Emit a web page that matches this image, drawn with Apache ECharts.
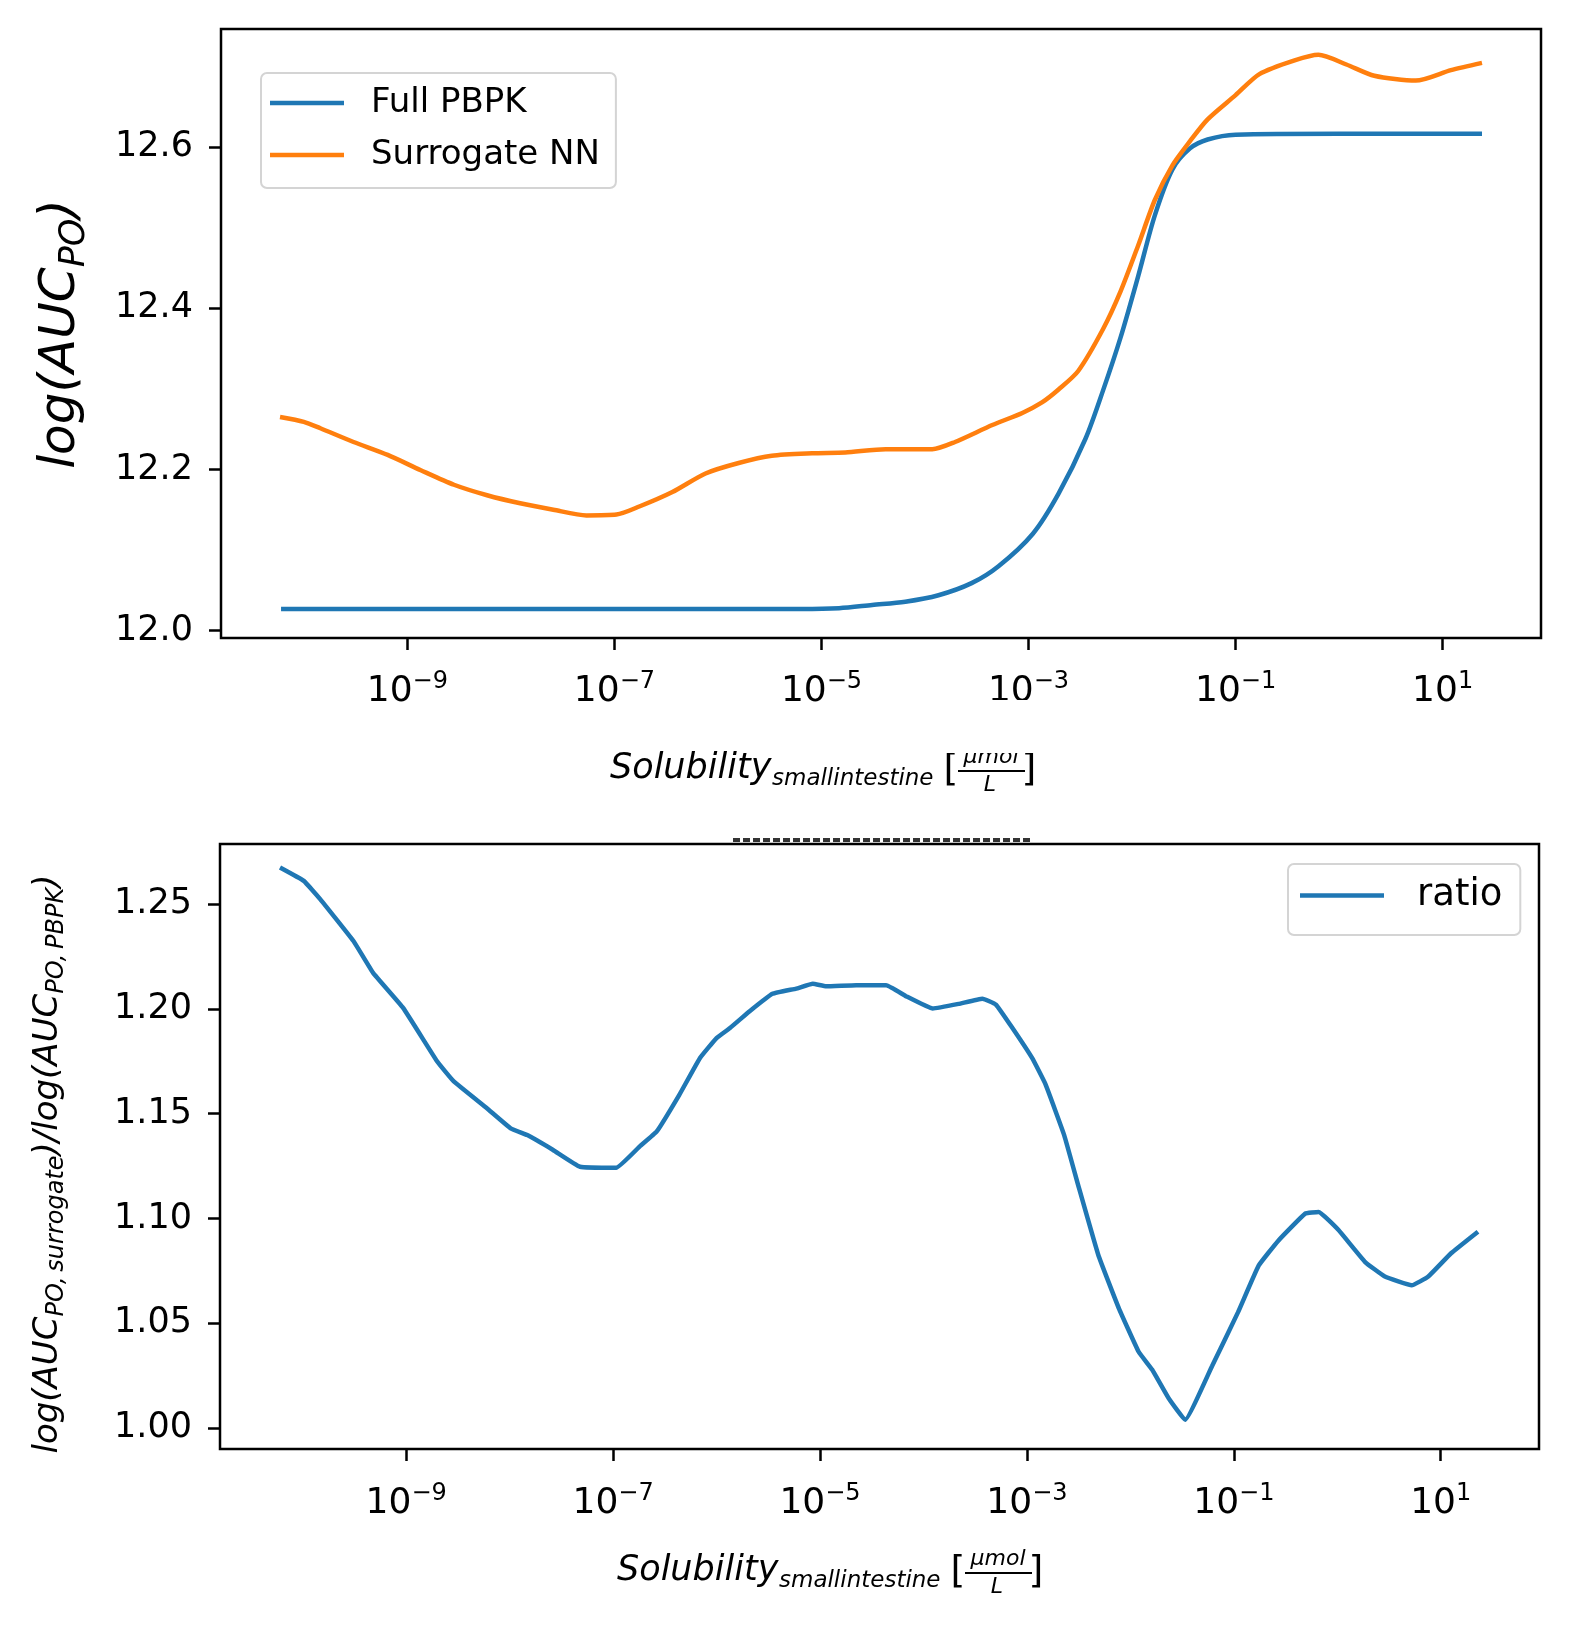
<!DOCTYPE html>
<html>
<head>
<meta charset="utf-8">
<title>Surrogate NN vs full PBPK</title>
<script src="https://cdn.jsdelivr.net/npm/echarts@6/dist/echarts.min.js"></script>
<style>
    html, body { margin: 0; padding: 0; background: #fff; }
    #chart { width: 1594px; height: 1635px; }
</style>
</head>
<body>
<div id="chart"></div>
<script>
var FONT = 'DejaVu Sans';

// x = log10(solubility in umol/L)
var pbpkX = [-10.22, -9.0, -8.0, -7.0, -6.0, -5.2, -4.83, -4.51, -4.19, -3.87, -3.55, -3.29, -2.96, -2.71, -2.45,
    -2.28, -2.11, -1.94, -1.78, -1.61, -1.44, -1.27, -1.0, 0.0, 1.38];
var pbpkY = [12.027, 12.027, 12.027, 12.027, 12.027, 12.027, 12.028, 12.032, 12.036, 12.044, 12.059, 12.080, 12.120, 12.170, 12.238,
    12.298, 12.364, 12.440, 12.515, 12.572, 12.598, 12.609, 12.615, 12.616, 12.616];

var nnX = [-10.23, -10.0, -9.84, -9.52, -9.19, -8.87, -8.55, -8.23, -7.91, -7.59, -7.27, -6.98, -6.76, -6.44, -6.12,
    -5.80, -5.48, -5.09, -4.77, -4.38, -3.93, -3.71, -3.35, -3.06, -2.87, -2.71, -2.52, -2.28, -2.11, -1.94,
    -1.78, -1.61, -1.44, -1.27, -1.0, -0.77, -0.43, -0.20, 0.07, 0.34, 0.74, 1.08, 1.38];
var nnY = [12.265, 12.259, 12.251, 12.234, 12.218, 12.199, 12.181, 12.168, 12.158, 12.150, 12.143, 12.144, 12.154, 12.172, 12.195,
    12.208, 12.217, 12.220, 12.221, 12.225, 12.225, 12.234, 12.255, 12.270, 12.283, 12.299, 12.322, 12.374, 12.421, 12.478,
    12.534, 12.577, 12.607, 12.634, 12.664, 12.690, 12.707, 12.714, 12.702, 12.688, 12.682, 12.695, 12.704];

var ratioX = [-10.22, -9.99, -9.83, -9.51, -9.32, -9.03, -8.70, -8.54, -8.22, -7.99, -7.83, -7.58, -7.32, -6.97, -6.74,
    -6.58, -6.36, -6.16, -6.00, -5.87, -5.68, -5.46, -5.23, -5.07, -4.94, -4.65, -4.36, -4.17, -3.91, -3.66,
    -3.43, -3.30, -3.14, -2.95, -2.82, -2.64, -2.50, -2.31, -2.11, -1.92, -1.79, -1.63, -1.47, -1.21, -0.96,
    -0.76, -0.57, -0.31, -0.18, 0.01, 0.27, 0.46, 0.72, 0.88, 1.10, 1.36];
var ratioY = [1.2675, 1.2611, 1.2523, 1.2324, 1.2172, 1.2005, 1.1749, 1.1654, 1.1526, 1.1430, 1.1398, 1.1327, 1.1247, 1.1242, 1.1345,
    1.1414, 1.1590, 1.1766, 1.1861, 1.1909, 1.1989, 1.2072, 1.2097, 1.2120, 1.2108, 1.2113, 1.2113, 1.2061, 1.2002, 1.2024,
    1.2049, 1.2021, 1.1909, 1.1766, 1.1640, 1.1398, 1.1151, 1.0826, 1.0570, 1.0364, 1.0279, 1.0142, 1.0039, 1.0296, 1.0552,
    1.0775, 1.0894, 1.1023, 1.1031, 1.0946, 1.0792, 1.0723, 1.0681, 1.0723, 1.0834, 1.0937];

var xTicks = [-9, -7, -5, -3, -1, 1];
var topYTicks = [12.0, 12.2, 12.4, 12.6];
var bottomYTicks = [1.00, 1.05, 1.10, 1.15, 1.20, 1.25];

function pairs(xs, ys) {
    return xs.map(function (x, i) { return [x, ys[i]]; });
}

function powLabel(v) {
    var e = Math.round(v);
    return '{b|10}{s|' + (e < 0 ? '\u2212' + (-e) : String(e)) + '}';
}

function xAxisOpt(gridIndex, margin) {
    return {
        type: 'value', gridIndex: gridIndex, min: -10.8, max: 1.95,
        axisLine: { show: false, onZero: false },
        splitLine: { show: false },
        axisTick: { show: true, customValues: xTicks, length: 12, lineStyle: { color: '#000', width: 2.5 } },
        axisLabel: {
            customValues: xTicks, formatter: powLabel, margin: margin, color: '#000',
            rich: {
                b: { fontSize: 36, lineHeight: 40, fontFamily: FONT, color: '#000', verticalAlign: 'bottom' },
                s: { fontSize: 24, lineHeight: 18, fontFamily: FONT, color: '#000', verticalAlign: 'top' }
            }
        }
    };
}

function yAxisOpt(gridIndex, min, max, ticks, digits) {
    return {
        type: 'value', gridIndex: gridIndex, min: min, max: max,
        axisLine: { show: false, onZero: false },
        splitLine: { show: false },
        axisTick: { show: true, customValues: ticks, length: 12, lineStyle: { color: '#000', width: 2.5 } },
        axisLabel: {
            customValues: ticks, margin: 28, color: '#000', fontSize: 35, fontFamily: FONT,
            formatter: function (v) { return v.toFixed(digits); }
        }
    };
}

// italic math-style text pieces for the x label (solubility with fraction unit)
function xLabelParts(dx, dy, hideNumeratorTop) {
    var it = { fontStyle: 'italic', fontFamily: FONT, fill: '#000' };
    var parts = [
        { type: 'text', x: 610 + dx, y: 769 + dy, style: Object.assign({ text: 'Solubility', fontSize: 35, textAlign: 'left', textVerticalAlign: 'middle' }, it) },
        { type: 'text', x: 772 + dx, y: 779 + dy, style: Object.assign({ text: 'smallintestine', fontSize: 23, textAlign: 'left', textVerticalAlign: 'middle' }, it) },
        { type: 'text', x: 951 + dx, y: 770 + dy, style: { text: '[', fontSize: 38, fontFamily: FONT, fill: '#000', textAlign: 'center', textVerticalAlign: 'middle' } },
        { type: 'text', x: 1029 + dx, y: 770 + dy, style: { text: ']', fontSize: 38, fontFamily: FONT, fill: '#000', textAlign: 'center', textVerticalAlign: 'middle' } },
        { type: 'line', shape: { x1: 958 + dx, y1: 771 + dy, x2: 1025 + dx, y2: 771 + dy }, style: { stroke: '#000', lineWidth: 2 } },
        { type: 'text', x: 991 + dx, y: 757 + dy, style: Object.assign({ text: '\u03bcmol', fontSize: 22, textAlign: 'center', textVerticalAlign: 'middle' }, it) },
        { type: 'text', x: 990 + dx, y: 785 + dy, style: Object.assign({ text: 'L', fontSize: 22, textAlign: 'center', textVerticalAlign: 'middle' }, it) }
    ];
    if (hideNumeratorTop) {
        parts.push({ type: 'rect', z: 10, shape: { x: 940 + dx, y: 700 + dy, width: 100, height: 53 }, style: { fill: '#fff' } });
    }
    return parts;
}

function richItalic(size) {
    return {
        a: { fontSize: size, lineHeight: size, fontStyle: 'italic', fontFamily: FONT, fill: '#000', verticalAlign: 'top' },
        s: { fontSize: Math.round(size * 0.7), lineHeight: Math.round(size * 0.7), padding: [Math.round(size * 0.41), 0, 0, 0],
            fontStyle: 'italic', fontFamily: FONT, fill: '#000', verticalAlign: 'top' }
    };
}

var graphics = [
    {
        type: 'text', x: 61, y: 334, rotation: Math.PI / 2,
        style: { text: '{a|log(AUC}{s|PO}{a|)}', rich: richItalic(50), textAlign: 'center', textVerticalAlign: 'middle', fill: '#000' }
    },
    {
        type: 'text', x: 48, y: 1164, rotation: Math.PI / 2,
        style: {
            text: '{a|log(AUC}{s|PO,\u2009surrogate}{a|)/log(AUC}{s|PO,\u2009PBPK}{a|)}',
            rich: richItalic(34), textAlign: 'center', textVerticalAlign: 'middle', fill: '#000'
        }
    },
    // clipped text remnant just above the lower panel
    { type: 'line', shape: { x1: 733, y1: 840, x2: 1030, y2: 840 }, style: { stroke: '#333', lineWidth: 4, lineDash: [7, 3] } }
].concat(xLabelParts(0, 0, true), xLabelParts(7, 802, false));

var chart = echarts.init(document.getElementById('chart'), null, { renderer: 'canvas' });

chart.setOption({
    animation: false,
    backgroundColor: '#fff',
    textStyle: { fontFamily: FONT },
    grid: [
        { left: 221, top: 29, width: 1320, height: 609, show: true, borderColor: '#000', borderWidth: 2.5, backgroundColor: '#fff' },
        { left: 220, top: 844, width: 1319, height: 605, show: true, borderColor: '#000', borderWidth: 2.5, backgroundColor: '#fff' }
    ],
    xAxis: [xAxisOpt(0, 32), xAxisOpt(1, 33)],
    yAxis: [
        yAxisOpt(0, 11.991, 12.746, topYTicks, 1),
        yAxisOpt(1, 0.990, 1.2787, bottomYTicks, 2)
    ],
    legend: [
        {
            data: ['Full PBPK', 'Surrogate NN'],
            orient: 'vertical', left: 261, top: 73,
            icon: 'rect', itemWidth: 74, itemHeight: 4.5, itemGap: 18,
            padding: [13, 16, 16, 9],
            backgroundColor: '#fff', borderColor: '#d4d4d4', borderWidth: 2, borderRadius: 6,
            selectedMode: false,
            textStyle: { fontSize: 34, lineHeight: 34, color: '#000', fontFamily: FONT, padding: [0, 0, 0, 22] }
        },
        {
            data: ['ratio'],
            orient: 'vertical', left: 1288, top: 864,
            icon: 'rect', itemWidth: 84, itemHeight: 4.5,
            padding: [13, 18, 21, 12],
            backgroundColor: '#fff', borderColor: '#d4d4d4', borderWidth: 2, borderRadius: 6,
            selectedMode: false,
            textStyle: { fontSize: 37, lineHeight: 37, color: '#000', fontFamily: FONT, padding: [0, 0, 0, 28] }
        }
    ],
    series: [
        {
            name: 'Full PBPK', type: 'line', xAxisIndex: 0, yAxisIndex: 0,
            data: pairs(pbpkX, pbpkY), showSymbol: false, symbol: 'none', smooth: 0.3,
            color: '#1f77b4', lineStyle: { width: 4.5, color: '#1f77b4' }
        },
        {
            name: 'Surrogate NN', type: 'line', xAxisIndex: 0, yAxisIndex: 0,
            data: pairs(nnX, nnY), showSymbol: false, symbol: 'none', smooth: 0.25,
            color: '#ff7f0e', lineStyle: { width: 4.5, color: '#ff7f0e' }
        },
        {
            name: 'ratio', type: 'line', xAxisIndex: 1, yAxisIndex: 1,
            data: pairs(ratioX, ratioY), showSymbol: false, symbol: 'none', smooth: 0.1,
            color: '#1f77b4', lineStyle: { width: 4.5, color: '#1f77b4' }
        }
    ],
    graphic: { elements: graphics }
});
</script>
</body>
</html>
